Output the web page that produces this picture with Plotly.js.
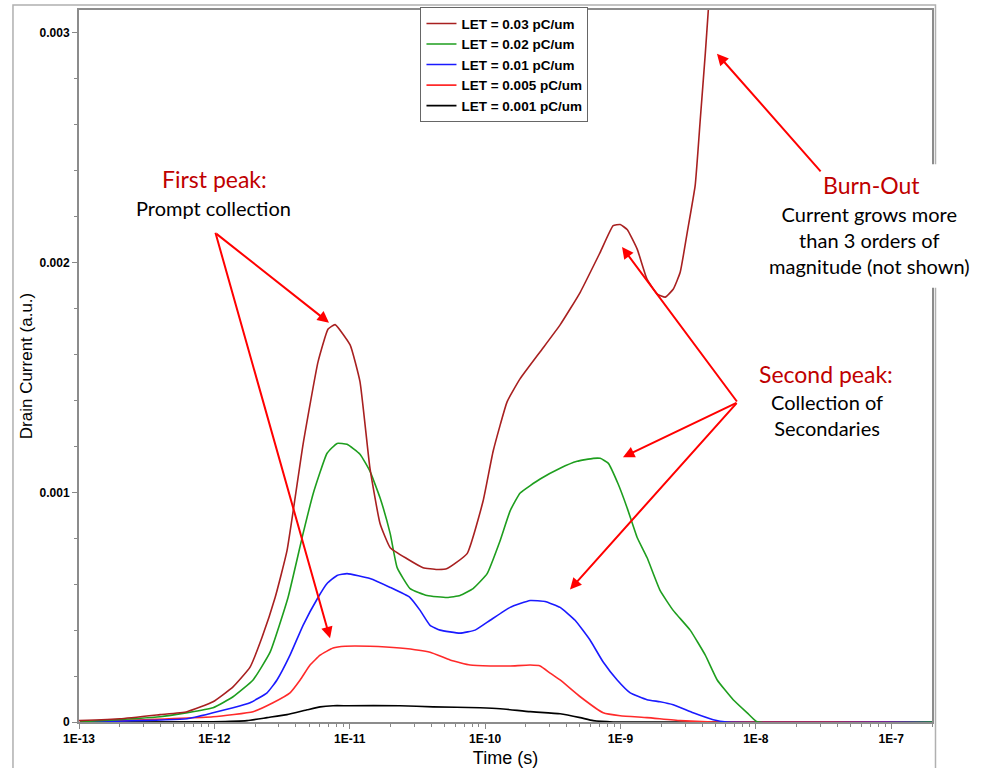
<!DOCTYPE html>
<html>
<head>
<meta charset="utf-8">
<script src="https://cdn.plot.ly/plotly-3.0.1.min.js"></script>
<style>html,body{margin:0;padding:0;background:#fff;}#chart{width:986px;height:768px;}</style>
</head>
<body>
<div id="chart"></div>
<script>
// ---- data (time in seconds, drain current in a.u.) ----
const seriesNames = ["LET = 0.03 pC/um","LET = 0.02 pC/um","LET = 0.01 pC/um","LET = 0.005 pC/um","LET = 0.001 pC/um"];

const t003 = [1e-13,2.01e-13,3.97e-13,6.28e-13,9.77e-13,1.374e-12,1.835e-12,2.25e-12,2.81e-12,3.44e-12,4.52e-12,5.83e-12,6.92e-12,7.79e-12,1.006e-11,1.19e-11,1.41e-11,1.676e-11,1.99e-11,2.65e-11,3.48e-11,4.42e-11,5.24e-11,7.36e-11,9.66e-11,1.146e-10,1.455e-10,1.815e-10,2.55e-10,3.58e-10,5.04e-10,7.08e-10,8.83e-10,9.95e-10,1.12e-9,1.33e-9,1.57e-9,1.87e-9,2.14e-9,2.45e-9,2.76e-9,3.11e-9,3.56e-9,3.88e-9,4.23e-9,4.45e-9,4.60e-9];
const v003 = [0.000006,0.000014,0.000032,0.000045,0.000088,0.000153,0.000239,0.000369,0.000542,0.000746,0.001209,0.001568,0.001711,0.001730,0.001642,0.001482,0.001105,0.000863,0.000759,0.000711,0.000672,0.000664,0.000668,0.000733,0.000962,0.001179,0.001395,0.001495,0.001612,0.001729,0.001871,0.002045,0.002161,0.002166,0.002144,0.002058,0.001928,0.001863,0.001850,0.001884,0.001958,0.002131,0.002335,0.002620,0.002910,0.003097,0.003220];

const t002 = [1.017e-13,3.97e-13,9.77e-13,1.374e-12,1.931e-12,2.58e-12,3.50e-12,4.52e-12,5.36e-12,6.80e-12,8.06e-12,9.55e-12,1.19e-11,1.41e-11,1.676e-11,1.99e-11,2.24e-11,2.79e-11,3.73e-11,5.24e-11,6.53e-11,8.15e-11,1.035e-10,1.29e-10,1.53e-10,1.815e-10,2.55e-10,3.58e-10,4.78e-10,6.28e-10,7.08e-10,8.11e-10,9.61e-10,1.12e-9,1.33e-9,1.57e-9,1.96e-9,2.45e-9,3.27e-9,4.23e-9,5.18e-9,6.80e-9,8.63e-9,1.023e-8,2e-7];
const v002 = [0.000001,0.000023,0.000062,0.000110,0.000183,0.000304,0.000542,0.000820,0.000993,0.001170,0.001213,0.001209,0.001166,0.001092,0.000975,0.000820,0.000672,0.000581,0.000551,0.000542,0.000551,0.000581,0.000646,0.000789,0.000919,0.000997,0.001058,0.001105,0.001135,0.001148,0.001148,0.001127,0.001036,0.000932,0.000802,0.000716,0.000573,0.000486,0.000400,0.000291,0.000183,0.000097,0.000040,0.000001,0];

const t001 = [1.017e-13,6.28e-13,9.77e-13,1.374e-12,1.835e-12,2.45e-12,2.90e-12,3.62e-12,4.52e-12,5.83e-12,6.80e-12,8.06e-12,9.55e-12,1.41e-11,1.99e-11,2.79e-11,3.31e-11,3.92e-11,4.65e-11,6.53e-11,8.43e-11,1.089e-10,1.53e-10,2.15e-10,2.77e-10,3.58e-10,4.62e-10,5.97e-10,7.45e-10,9.45e-10,1.18e-9,1.57e-9,1.96e-9,2.45e-9,3.44e-9,4.84e-9,6.14e-9,2e-7];
const v001 = [0,0.000014,0.000040,0.000062,0.000084,0.000127,0.000183,0.000291,0.000421,0.000542,0.000603,0.000638,0.000646,0.000625,0.000586,0.000542,0.000486,0.000421,0.000400,0.000387,0.000400,0.000443,0.000499,0.000529,0.000525,0.000499,0.000443,0.000356,0.000261,0.000183,0.000127,0.000097,0.000088,0.000075,0.000040,0.000010,0,0];

const t0005 = [1.017e-13,9.77e-13,1.931e-12,2.71e-12,3.62e-12,4.30e-12,5.09e-12,6.04e-12,7.53e-12,9.24e-12,1.41e-11,2.35e-11,3.92e-11,5.51e-11,7.75e-11,1.089e-10,1.53e-10,2.15e-10,2.55e-10,3.02e-10,3.58e-10,5.04e-10,7.45e-10,9.95e-10,1.57e-9,2.76e-9,4.84e-9,2e-7];
const v0005 = [0,0.000023,0.000045,0.000084,0.000127,0.000183,0.000248,0.000291,0.000322,0.000330,0.000330,0.000322,0.000304,0.000270,0.000248,0.000244,0.000244,0.000248,0.000244,0.000213,0.000183,0.000110,0.000040,0.000027,0.000019,0.000006,0,0];

const t0001 = [1.017e-13,9.77e-13,1.743e-12,2.45e-12,3.44e-12,4.84e-12,6.04e-12,7.53e-12,9.55e-12,2.35e-11,4.13e-11,9.18e-11,1.29e-10,2.15e-10,3.58e-10,5.04e-10,6.28e-10,8.83e-10,2e-7];
const v0001 = [0,0.000001,0.000006,0.000019,0.000032,0.000053,0.000066,0.000071,0.000071,0.000071,0.000066,0.000062,0.000058,0.000045,0.000036,0.000019,0.000006,0,0];

const xTickVals = [1e-13,1e-12,1e-11,1e-10,1e-9,1e-8,1e-7];
const xTickText = ["1E-13","1E-12","1E-11","1E-10","1E-9","1E-8","1E-7"];
const yTickVals = [0,0.001,0.002,0.003];
const yTickText = ["0","0.001","0.002","0.003"];

// ---- styles ----
const colors = ["#a82020","#1e9e1e","#1a1aff","#ff2a2a","#000000"];
const xs = [t003,t002,t001,t0005,t0001];
const ys = [v003,v002,v001,v0005,v0001];

const traces = [];
for (let i = 4; i >= 0; i--) {
  traces.push({
    x: xs[i], y: ys[i], type: "scatter", mode: "lines",
    name: seriesNames[i],
    line: {color: colors[i], width: 1.6, shape: "spline", smoothing: 0.4},
    hoverinfo: "skip"
  });
}

// minor tick positions
const xMinor = [];
for (let d = -13; d <= -7; d++) {
  for (let k = 2; k <= 9; k++) {
    const v = k * Math.pow(10, d);
    if (v <= 2e-7) xMinor.push(v);
  }
}
const yMinor = [];
for (let k = 1; k <= 15; k++) { if (k % 5 !== 0) yMinor.push(k * 0.0002); }

const red = "#ff0000";
const dark = "#c00000";
const txtFont = "Lato, 'Open Sans', sans-serif";

function arrow(x, y, ax, ay) {
  return {xref:"paper", yref:"paper", x:x, y:y, ax:ax, ay:ay, text:"",
    showarrow:true, arrowhead:2, arrowsize:1.15, arrowwidth:2, arrowcolor:red, standoff:0, startstandoff:0};
}
function label(x, y, text, size, color) {
  return {xref:"paper", yref:"paper", x:x, y:y, text:text, showarrow:false,
    xanchor:"center", yanchor:"middle", align:"center",
    font:{family:txtFont, size:size, color:color}};
}

const annotations = [
  arrow(0.2931, 0.5608, -114, -90),
  arrow(0.2943, 0.1175, -115, -407),
  arrow(0.6366, 0.6671, 116, 156),
  arrow(0.6377, 0.3720, 115, -55),
  arrow(0.5756, 0.1860, 168, -188),
  arrow(0.7479, 0.9385, 105, 119),
  label(0.1583, 0.7622, "First peak:", 23, dark),
  label(0.1577, 0.7217, "Prompt collection", 20, "#000"),
  label(0.9285, 0.7538, "Burn-Out", 23, dark),
  label(0.9273, 0.6773, "Current grows more<br>than 3 orders of<br>magnitude (not shown)", 20, "#000"),
  label(0.8757, 0.4881, "Second peak:", 23, dark),
  label(0.8769, 0.4308, "Collection of<br>Secondaries", 20, "#000")
];

const shapes = [
  {type:"rect", xref:"paper", yref:"paper", x0:-0.0774, x1:1.0041, y0:-0.1, y1:1.0070,
    line:{color:"#b0b0b0", width:1.5}, fillcolor:"rgba(0,0,0,0)", layer:"below"},
  {type:"rect", xref:"paper", yref:"paper", x0:0.7984, x1:1.0586, y0:0.6098, y1:0.7832,
    line:{width:0}, fillcolor:"#ffffff", layer:"above"}
];

const tickFont = {family:"'Liberation Sans', Arial, sans-serif", size:12, color:"#000", weight:"bold"};

const layout = {
  width: 986, height: 768,
  margin: {l:79, r:54, t:7, b:46, pad:0},
  paper_bgcolor: "#fff", plot_bgcolor: "#fff",
  showlegend: true,
  legend: {x:0.4988, y:1.004, xanchor:"center", yanchor:"top", traceorder:"reversed",
    bgcolor:"#fff", bordercolor:"#666", borderwidth:1,
    font:{family:"'Liberation Sans', Arial, sans-serif", size:13.5, color:"#000", weight:"bold"},
    tracegroupgap:0},
  xaxis: {type:"log", range:[-13, Math.log10(2e-7)], tickmode:"array", tickvals:xTickVals, ticktext:xTickText,
    ticks:"outside", ticklen:5, tickwidth:1, tickcolor:"#888", showgrid:false, zeroline:false,
    showline:true, linecolor:"#8c8c8c", linewidth:2, mirror:true, tickfont:tickFont,
    minor:{tickmode:"array", tickvals:xMinor, ticks:"outside", ticklen:3, tickcolor:"#888", showgrid:false},
    title:{text:"Time (s)", font:{family:"'Liberation Sans', Arial, sans-serif", size:18, color:"#000"}, standoff:6}},
  yaxis: {range:[0, 0.0031], tickmode:"array", tickvals:yTickVals, ticktext:yTickText,
    ticks:"outside", ticklen:5, tickwidth:1, tickcolor:"#888", showgrid:false, zeroline:false,
    showline:true, linecolor:"#8c8c8c", linewidth:2, mirror:true, tickfont:tickFont,
    minor:{tickmode:"array", tickvals:yMinor, ticks:"outside", ticklen:3, tickcolor:"#888", showgrid:false},
    title:{text:"Drain Current (a.u.)", font:{family:"'Liberation Sans', Arial, sans-serif", size:17, color:"#000"}, standoff:3}},
  annotations: annotations,
  shapes: shapes
};

Plotly.newPlot("chart", traces, layout, {staticPlot:true, displayModeBar:false});
</script>
</body>
</html>
